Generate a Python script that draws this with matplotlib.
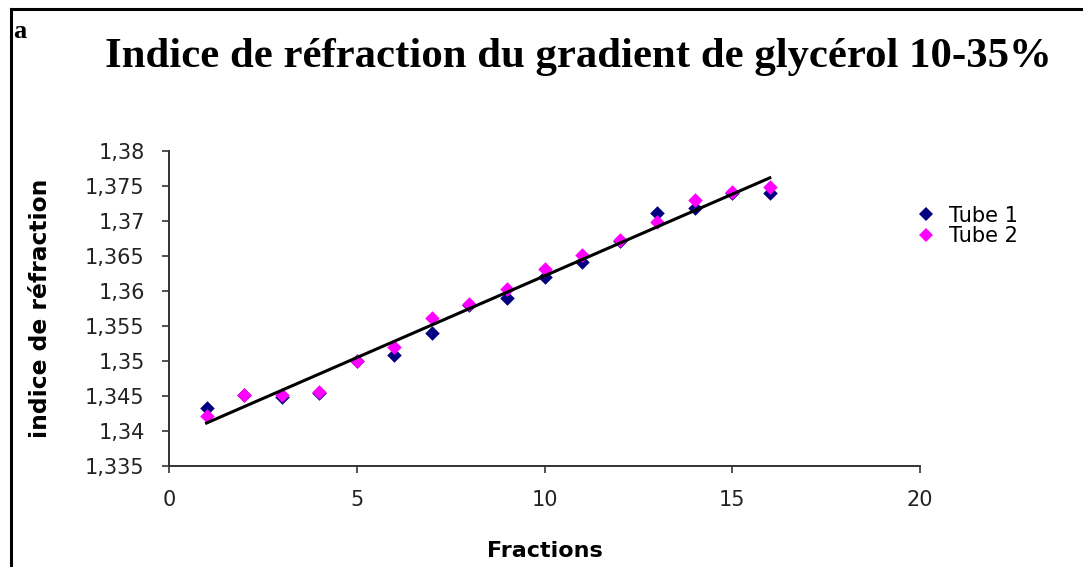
import numpy as np
import matplotlib.pyplot as plt
from matplotlib.lines import Line2D

# indice de réfraction mesuré par fraction, deux tubes
fractions = [1, 2, 3, 4, 5, 6, 7, 8, 9, 10, 11, 12, 13, 14, 15, 16]
tube1 = [1.3433, 1.3452, 1.3448, 1.3455, 1.3500, 1.3509, 1.3540, 1.3580,
         1.3590, 1.3620, 1.3641, 1.3672, 1.3711, 1.3718, 1.3740, 1.3740]
tube2 = [1.3421, 1.3452, 1.3452, 1.3456, 1.3500, 1.3520, 1.3561, 1.3581,
         1.3603, 1.3631, 1.3651, 1.3673, 1.3699, 1.3730, 1.3741, 1.3749]

yticks = [1.335, 1.34, 1.345, 1.35, 1.355, 1.36, 1.365, 1.37, 1.375, 1.38]
ylabels = ['1,335', '1,34', '1,345', '1,35', '1,355', '1,36', '1,365', '1,37', '1,375', '1,38']
xticks = [0, 5, 10, 15, 20]

fig = plt.figure(figsize=(10.83, 5.67), dpi=100)
ax = fig.add_axes([169 / 1083, 1 - 466 / 567, (920 - 169) / 1083, (466 - 151) / 567])

# droite de tendance (régression linéaire)
x = np.array(fractions)
p = np.polyfit(np.concatenate([x, x]), np.concatenate([tube1, tube2]), 1)
ax.plot([x[0], x[-1]], np.polyval(p, [x[0], x[-1]]), color='black', lw=2.2, zorder=3)

ax.scatter(fractions, tube1, marker='D', s=55, color='#000080', lw=0, zorder=2)
ax.scatter(fractions, tube2, marker='D', s=55, color='#ff00ff', lw=0, zorder=2)

ax.set_xlim(0, 20)
ax.set_ylim(1.335, 1.38)
ax.set_xticks(xticks)
ax.set_yticks(yticks)
ax.set_yticklabels(ylabels)
for s in ['top', 'right']:
    ax.spines[s].set_visible(False)
for s in ['left', 'bottom']:
    ax.spines[s].set_linewidth(1.4)
    ax.spines[s].set_color('#333333')
ax.tick_params(direction='out', length=5, width=1.2, color='#333333',
               labelsize=15, labelcolor='#222222', pad=12.5)

ax.set_xlabel('Fractions', fontsize=16, fontweight='bold', labelpad=22)
ax.set_ylabel('indice de réfraction', fontsize=16.8, fontweight='bold', labelpad=24)

fig.text(578 / 1083, 1 - 67 / 567, 'Indice de réfraction du gradient de glycérol 10-35%',
         family='Liberation Serif', fontweight='bold', fontsize=30.8,
         ha='center', va='baseline')
fig.text(0.012, 0.945, 'a', family='Liberation Serif', fontweight='bold',
         fontsize=19, ha='left', va='center')

handles = [Line2D([], [], ls='none', marker='D', ms=7, mew=0, color='#000080'),
           Line2D([], [], ls='none', marker='D', ms=7, mew=0, color='#ff00ff')]
fig.legend(handles, ['Tube 1', 'Tube 2'], loc='upper left',
           bbox_to_anchor=(895 / 1083, 1 - 187 / 567), frameon=False,
           fontsize=15, handletextpad=0.5, labelspacing=0.02, handlelength=1.2)

# cadre : bords gauche et haut
fig.add_artist(Line2D([11 / 1083, 11 / 1083], [0, 1 - 9 / 567], color='black', lw=2.2,
                      transform=fig.transFigure))
fig.add_artist(Line2D([11 / 1083, 1], [1 - 9 / 567, 1 - 9 / 567], color='black', lw=2.2,
                      transform=fig.transFigure))

fig.savefig('out.png', dpi=100)
